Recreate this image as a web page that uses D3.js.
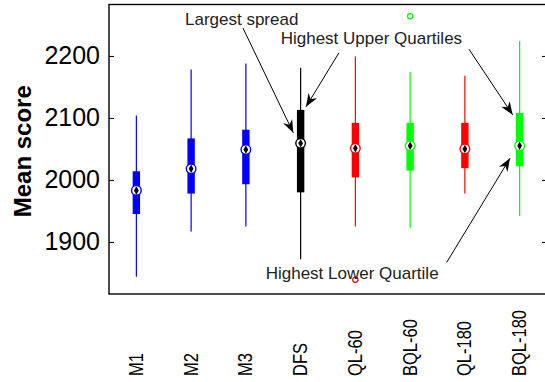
<!DOCTYPE html>
<html>
<head>
<meta charset="utf-8">
<script src="https://cdn.jsdelivr.net/npm/d3@7"></script>
<style>
  body { margin: 0; background: #fff; }
  svg { display: block; font-family: "Liberation Sans", Arial, sans-serif; }
</style>
</head>
<body>
<div id="chart"></div>
<script>
// box plot data
const categories = ["M1", "M2", "M3", "DFS", "QL-60", "BQL-60", "QL-180", "BQL-180"];
const whiskerLow = [1844, 1917, 1925, 1872, 1925, 1923, 1978, 1942];
const q1 = [1945, 1978, 1993, 1980, 2004, 2015, 2019, 2022];
const medians = [1983, 2018, 2049, 2059, 2051, 2055, 2050, 2055];
const q3 = [2014, 2067, 2081, 2113, 2092, 2092, 2092, 2108];
const whiskerHigh = [2104, 2178, 2188, 2181, 2199, 2174, 2168, 2224];
const boxColors = ["#0000ff", "#0000ff", "#0000ff", "#000000", "#ff0000", "#00ff00", "#ff0000", "#00ff00"];
const outlierCat = ["QL-60", "BQL-60"];
const outlierVal = [1839, 2264];
const yTicks = [1900, 2000, 2100, 2200];

// annotations, in data units (x = category position 1..8)
const noteText = ["Largest spread", "Highest Upper Quartiles", "Highest Lower Quartile"];
const noteX = [1.888, 3.636, 3.362];
const noteY = [2250, 2220, 1840];
const arrowFrom = [[2.947, 2245], [4.70, 2205], [7.075, 2211], [6.668, 1867]];
const arrowTo = [[3.866, 2076], [4.098, 2118], [7.873, 2105], [7.824, 2035]];

const width = 545, height = 382;
const margin = {top: 4.5, left: 109, bottom: 88, right: -2};

const svg = d3.select("#chart").append("svg")
    .attr("width", width)
    .attr("height", height);

const x = d3.scaleLinear()
    .domain([0.5, categories.length + 0.5])
    .range([margin.left, width - margin.right]);

const y = d3.scaleLinear()
    .domain([1816, 2283])
    .range([height - margin.bottom, margin.top]);

const boxes = categories.map((c, i) => ({
    cat: c, pos: i + 1, lo: whiskerLow[i], q1: q1[i], med: medians[i],
    q3: q3[i], hi: whiskerHigh[i], color: boxColors[i]
}));

// axes
const yAxis = d3.axisLeft(y).tickValues(yTicks).tickSize(-5).tickPadding(9).tickFormat(d3.format("d"));
svg.append("g")
    .attr("class", "y-axis")
    .attr("transform", "translate(" + margin.left + ",0)")
    .call(yAxis)
    .call(g => g.select(".domain").remove())
    .call(g => g.selectAll("text").attr("font-size", 25).attr("fill", "#000").attr("font-family", "Liberation Sans, Arial, sans-serif"))
    .call(g => g.selectAll("line").attr("stroke", "#000"));

const yAxisRight = d3.axisRight(y).tickValues(yTicks).tickSize(-5).tickFormat("");
svg.append("g")
    .attr("transform", "translate(" + x.range()[1] + ",0)")
    .call(yAxisRight)
    .call(g => g.select(".domain").remove())
    .call(g => g.selectAll("line").attr("stroke", "#000"));

// frame
svg.append("rect")
    .attr("x", x.range()[0])
    .attr("y", y.range()[1])
    .attr("width", x.range()[1] - x.range()[0])
    .attr("height", y.range()[0] - y.range()[1])
    .attr("fill", "none")
    .attr("stroke", "#000")
    .attr("stroke-width", 1.4);

// y label
svg.append("text")
    .attr("transform", "translate(31," + ((y.range()[0] + y.range()[1]) / 2 + 2) + ") rotate(-90)")
    .attr("text-anchor", "middle")
    .attr("font-size", 24)
    .attr("font-weight", "bold")
    .text("Mean score");

// category labels (rotated)
svg.selectAll(".cat-label")
    .data(boxes)
    .join("text")
    .attr("class", "cat-label")
    .attr("transform", d => "translate(" + (x(d.pos) + 6.5) + ",376) rotate(-90) scale(1,1.2)")
    .attr("text-anchor", "start")
    .attr("font-size", 16.5)
    .text(d => d.cat);

// whiskers
const g = svg.append("g");
g.selectAll(".whisker")
    .data(boxes)
    .join("line")
    .attr("class", "whisker")
    .attr("x1", d => x(d.pos)).attr("x2", d => x(d.pos))
    .attr("y1", d => y(d.lo)).attr("y2", d => y(d.hi))
    .attr("stroke", d => d.color)
    .attr("stroke-width", 1.2);

// boxes
g.selectAll(".box")
    .data(boxes)
    .join("rect")
    .attr("class", "box")
    .attr("x", d => x(d.pos) - 3.7)
    .attr("width", 7.4)
    .attr("y", d => y(d.q3))
    .attr("height", d => y(d.q1) - y(d.q3))
    .attr("fill", d => d.color);

// median markers
g.selectAll(".med-ring")
    .data(boxes)
    .join("circle")
    .attr("class", "med-ring")
    .attr("cx", d => x(d.pos))
    .attr("cy", d => y(d.med))
    .attr("r", 4.8)
    .attr("fill", "#fff")
    .attr("stroke", d => d.color)
    .attr("stroke-width", 1.4);

g.selectAll(".med-dot")
    .data(boxes)
    .join("path")
    .attr("class", "med-dot")
    .attr("transform", d => "translate(" + x(d.pos) + "," + y(d.med) + ")")
    .attr("d", d3.symbol().type(d3.symbolDiamond).size(20))
    .attr("fill", "#000");

// outliers
g.selectAll(".outlier")
    .data(outlierCat.map((c, i) => ({pos: categories.indexOf(c) + 1, v: outlierVal[i], color: boxColors[categories.indexOf(c)]})))
    .join("circle")
    .attr("class", "outlier")
    .attr("cx", d => x(d.pos))
    .attr("cy", d => y(d.v))
    .attr("r", 2.6)
    .attr("fill", "none")
    .attr("stroke", d => d.color)
    .attr("stroke-width", 1.2);

// annotations
svg.append("defs").append("marker")
    .attr("id", "arrowhead")
    .attr("viewBox", "-14 -6 16 12")
    .attr("refX", 0).attr("refY", 0)
    .attr("markerWidth", 16).attr("markerHeight", 12)
    .attr("markerUnits", "userSpaceOnUse")
    .attr("orient", "auto")
    .append("path")
    .attr("d", "M0,0 L-13,-5 L-9,0 L-13,5 Z")
    .attr("fill", "#000");

svg.selectAll(".arrow")
    .data(arrowFrom.map((f, i) => ({f: f, t: arrowTo[i]})))
    .join("line")
    .attr("class", "arrow")
    .attr("x1", d => x(d.f[0])).attr("y1", d => y(d.f[1]))
    .attr("x2", d => x(d.t[0])).attr("y2", d => y(d.t[1]))
    .attr("stroke", "#000")
    .attr("stroke-width", 1)
    .attr("marker-end", "url(#arrowhead)");

svg.selectAll(".note")
    .data(noteText)
    .join("text")
    .attr("class", "note")
    .attr("x", (d, i) => x(noteX[i]))
    .attr("y", (d, i) => y(noteY[i]))
    .attr("font-size", 17)
    .attr("fill", "#222")
    .text(d => d);
</script>
</body>
</html>
